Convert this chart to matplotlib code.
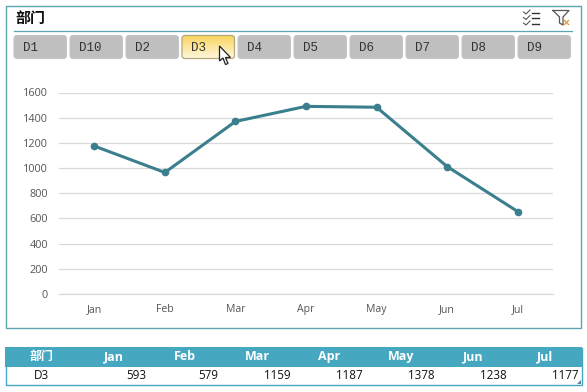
import matplotlib
matplotlib.use('Agg')
import matplotlib.pyplot as plt
import numpy as np
from matplotlib.patches import FancyBboxPatch, Polygon, Rectangle

W, H = 587, 392
CJK = ['Noto Sans CJK SC', 'DejaVu Sans']
TEAL = '#5aa5b0'
HEADER = '#46a7c1'
LINE = '#3b7f8e'

slicers = ['D1', 'D10', 'D2', 'D3', 'D4', 'D5', 'D6', 'D7', 'D8', 'D9']
selected = 'D3'
months = ['Jan', 'Feb', 'Mar', 'Apr', 'May', 'Jun', 'Jul']
line_values = [1175, 965, 1370, 1490, 1483, 1012, 655]
y_ticks = [0, 200, 400, 600, 800, 1000, 1200, 1400, 1600]
table_head = '部门'
table_dept = 'D3'
table_values = [593, 579, 1159, 1187, 1378, 1238, 1177]

fig = plt.figure(figsize=(W / 100, H / 100), dpi=100, facecolor='white')

# background layer in pixel coordinates, y going down like the screenshot
bg = fig.add_axes([0, 0, 1, 1])
bg.set_xlim(0, W)
bg.set_ylim(H, 0)
bg.axis('off')

# slicer frame
bg.add_patch(Rectangle((5.5, 5.5), 575, 322, fc='white', ec=TEAL, lw=1.0))
bg.plot([14, 572], [30.5, 30.5], color=TEAL, lw=0.9)
bg.text(15, 17.5, table_head, family=CJK, fontsize=10.8, weight='bold', color='#111111',
        ha='left', va='center')

# slicer buttons
for i, name in enumerate(slicers):
    x0 = 14 + i * 56
    if name == selected:
        grad = np.linspace(0, 1, 30).reshape(-1, 1, 1)
        top = np.array([0.98, 0.84, 0.38]).reshape(1, 1, 3)
        bottom = np.array([1.0, 0.97, 0.88]).reshape(1, 1, 3)
        img = top + (bottom - top) * grad
        box = FancyBboxPatch((x0, 35.5), 52.5, 23, boxstyle='round,pad=0,rounding_size=3',
                             fc='none', ec='#b5a878', lw=0.9, zorder=3)
        bg.add_patch(box)
        im = bg.imshow(img, extent=(x0, x0 + 52.5, 58.5, 35.5), aspect='auto', zorder=2)
        im.set_clip_path(box)
        bg.set_xlim(0, W)
        bg.set_ylim(H, 0)
    else:
        bg.add_patch(FancyBboxPatch((x0, 35.5), 52.5, 23, boxstyle='round,pad=0,rounding_size=3',
                                    fc='#bfbfbf', ec='#c6c6c6', lw=0.8, zorder=2))
    bg.text(x0 + 8.5, 47.5, name, family='Liberation Mono', fontsize=9, color='#333333',
            ha='left', va='center', zorder=4)

# mouse cursor over the selected button
cursor = [(219.5, 46), (219.5, 61), (223, 58), (225.5, 64.5), (228, 63.5), (225.5, 57.5), (230.5, 57.5)]
bg.add_patch(Polygon(cursor, closed=True, fc='white', ec='#222222', lw=0.9, zorder=5))

# multi-select icon
for y in (12.5, 18, 23.5):
    bg.plot([523.5, 526, 530], [y - 0.5, y + 1.5, y - 2.5], color='#555555', lw=0.8)
    bg.plot([531.5, 538.5], [y, y], color='#333333', lw=1.0)

# clear-filter icon
bg.plot([553, 569, 563, 563, 559.5, 559.5, 553], [10.5, 10.5, 17, 25, 23, 17, 10.5],
        color='#555555', lw=0.9)
bg.plot([564.5, 568.5], [20.5, 24.5], color='#e0a050', lw=1.0)
bg.plot([568.5, 564.5], [20.5, 24.5], color='#e0a050', lw=1.0)

# table
bg.add_patch(Rectangle((5.5, 347.5), 576, 37, fc='white', ec=HEADER, lw=1.0))
bg.add_patch(Rectangle((5, 347), 577, 20, fc=HEADER, ec='none'))
bg.text(41.5, 356.5, table_head, family=CJK, fontsize=8.6, weight='bold', color='white',
        ha='center', va='center')
bg.text(41.5, 375.5, table_dept, family='Open Sans', fontsize=8.4, color='#111111',
        ha='center', va='center')
head_centers = [113.5, 185, 257, 329, 401, 473, 545]
cell_rights = [146.5, 218.5, 291, 362.5, 434.5, 507, 578.5]
for m, xh, v, xr in zip(months, head_centers, table_values, cell_rights):
    bg.text(xh, 356.5, m, family='Open Sans', fontsize=9, weight='bold', color='white',
            ha='center', va='center')
    bg.text(xr, 375.5, str(v), family='Open Sans', fontsize=8.4, color='#111111',
            ha='right', va='center')
bg.add_patch(Polygon([(581, 380), (581, 384), (577, 384)], closed=True, fc='#5d7f8f', ec='none'))

# line chart
left, right, top, bottom = 59, 553, 92.5, 294
ax = fig.add_axes([left / W, 1 - bottom / H, (right - left) / W, (bottom - top) / H])
ax.patch.set_alpha(0)
ax.plot(months, line_values, color=LINE, lw=2.2, marker='o', ms=4.5, solid_capstyle='round', zorder=3)
ax.set_xlim(-0.5, 6.5)
ax.set_ylim(0, 1600)
ax.set_yticks(y_ticks)
ax.grid(axis='y', color='#d9d9d9', lw=0.9)
ax.set_axisbelow(True)
for s in ('top', 'right', 'left'):
    ax.spines[s].set_visible(False)
ax.spines['bottom'].set_color('#d9d9d9')
ax.spines['bottom'].set_linewidth(0.9)
ax.tick_params(axis='both', length=0)
ax.tick_params(axis='y', pad=8, labelsize=7.8, labelcolor='#555555')
ax.tick_params(axis='x', pad=7.5, labelsize=7.6, labelcolor='#555555')
for t in ax.get_xticklabels() + ax.get_yticklabels():
    t.set_family('Open Sans')

fig.savefig('out.png', dpi=100, facecolor='white')
